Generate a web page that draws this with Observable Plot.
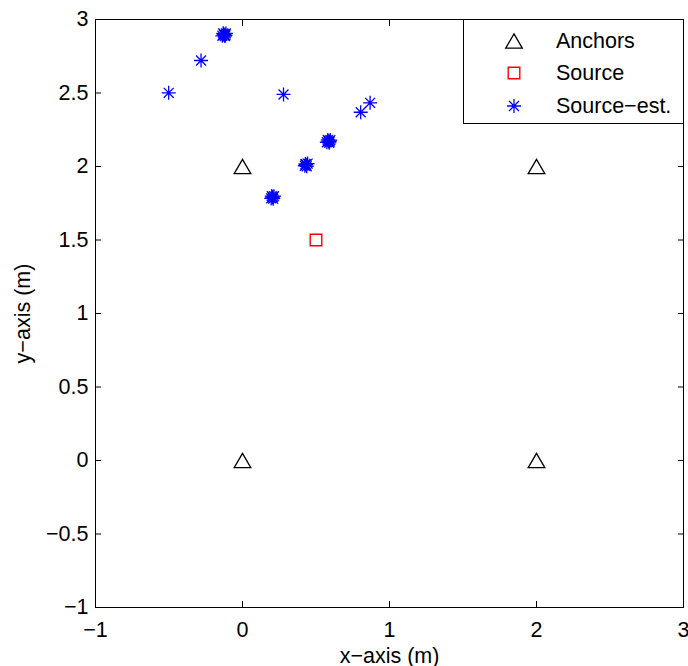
<!DOCTYPE html>
<html>
<head>
<meta charset="utf-8">
<script src="https://cdn.jsdelivr.net/npm/d3@7"></script>
<script src="https://cdn.jsdelivr.net/npm/@observablehq/plot@0.6"></script>
<style>
  html, body { margin: 0; padding: 0; background: white; overflow: hidden; }
  #wrap { position: relative; width: 688px; height: 666px; }
  #legend { position: absolute; left: 463px; top: 19px; width: 219px; height: 103px;
    border: 1px solid black; background: white; font-family: "Liberation Sans", Arial, Helvetica, sans-serif; font-size: 21.5px; }
  .row { position: absolute; left: 0; height: 30px; display: flex; align-items: center; }
  .row svg { position: absolute; left: 35px; }
  .row span { position: absolute; left: 92px; white-space: nowrap; }
</style>
</head>
<body>
<div id="wrap"><div id="legend"></div></div>
<script>
// ---- data ----
const xTicks = [-1, 0, 1, 2, 3];
const yTicks = [-1, -0.5, 0, 0.5, 1, 1.5, 2, 2.5, 3];

const anchorsX = [0, 0, 2, 2];
const anchorsY = [0, 2, 0, 2];

const sourceX = [0.5];
const sourceY = [1.5];

// source estimates (clusters are many overlapping estimates)
const estX = [
  -0.125, -0.113, -0.137, -0.120, -0.131, -0.116, -0.128,
  -0.282, -0.502, 0.279, 0.868, 0.804,
  0.585, 0.597, 0.574, 0.590, 0.580, 0.593,
  0.433, 0.443, 0.424, 0.437, 0.428,
  0.204, 0.214, 0.195, 0.209, 0.199, 0.206
];
const estY = [
  2.897, 2.905, 2.889, 2.887, 2.906, 2.893, 2.899,
  2.721, 2.501, 2.490, 2.433, 2.369,
  2.172, 2.180, 2.165, 2.161, 2.181, 2.170,
  2.012, 2.020, 2.005, 2.001, 2.017,
  1.791, 1.798, 1.783, 1.781, 1.799, 1.790
];

const legendLabels = ["Anchors", "Source", "Source\u2212est."];

// ---- marker shapes (MATLAB style) ----
const triSym = {draw(ctx, size) { const r = Math.sqrt(size / Math.PI); const h = r * 0.86;
  ctx.moveTo(0, -h); ctx.lineTo(r, h); ctx.lineTo(-r, h); ctx.closePath(); }};
const sqSym = {draw(ctx, size) { const r = Math.sqrt(size / Math.PI); ctx.rect(-r, -r, 2 * r, 2 * r); }};
const astSym = {draw(ctx, size) { const r = Math.sqrt(size / Math.PI); const d = r * Math.SQRT1_2;
  ctx.moveTo(-r, 0); ctx.lineTo(r, 0); ctx.moveTo(0, -r); ctx.lineTo(0, r);
  ctx.moveTo(-d, -d); ctx.lineTo(d, d); ctx.moveTo(-d, d); ctx.lineTo(d, -d); }};

const anchors = anchorsX.map((x, i) => ({x, y: anchorsY[i]}));
const source = sourceX.map((x, i) => ({x, y: sourceY[i]}));
const est = estX.map((x, i) => ({x, y: estY[i]}));

const fmt = d => String(d).replace("-", "\u2212");
const font = "'Liberation Sans', Arial, Helvetica, sans-serif";

const chart = Plot.plot({
  width: 688, height: 666,
  marginLeft: 95, marginRight: 5, marginTop: 19, marginBottom: 59,
  style: {fontFamily: font, fontSize: "21.5px", color: "black", background: "white", overflow: "hidden"},
  x: {domain: [-1, 3]},
  y: {domain: [-1, 3]},
  marks: [
    Plot.frame({stroke: "black", strokeWidth: 1}),
    // labels
    Plot.axisX(xTicks, {anchor: "bottom", tickSize: 0, tickPadding: 14, tickFormat: fmt,
      label: "x\u2212axis (m)", labelAnchor: "center", labelArrow: "none", labelOffset: 55}),
    Plot.axisY(yTicks, {anchor: "left", tickSize: 0, tickPadding: 7, tickFormat: fmt,
      label: "y\u2212axis (m)", labelAnchor: "center", labelArrow: "none", labelOffset: 81}),
    // inward ticks on all four sides
    Plot.axisX(xTicks, {anchor: "bottom", tickSize: -6, tickFormat: () => "", label: null}),
    Plot.axisX(xTicks, {anchor: "top", tickSize: -6, tickFormat: () => "", label: null}),
    Plot.axisY(yTicks, {anchor: "left", tickSize: -6, tickFormat: () => "", label: null}),
    Plot.axisY(yTicks, {anchor: "right", tickSize: -6, tickFormat: () => "", label: null}),
    // data
    Plot.dot(anchors, {x: "x", y: "y", symbol: triSym, r: 8.3, fill: "none", stroke: "black", strokeWidth: 1.3}),
    Plot.dot(source, {x: "x", y: "y", symbol: sqSym, r: 5.8, fill: "none", stroke: "#ff0000", strokeWidth: 1.4}),
    Plot.dot(est, {x: "x", y: "y", symbol: astSym, r: 7, fill: "none", stroke: "#0000ff", strokeWidth: 1.3})
  ]
});
document.getElementById("wrap").prepend(chart);

// ---- legend ----
const legend = document.getElementById("legend");
const legSyms = [
  {sym: triSym, r: 8.3, stroke: "black", sw: 1.3},
  {sym: sqSym, r: 5.8, stroke: "#ff0000", sw: 1.4},
  {sym: astSym, r: 7, stroke: "#0000ff", sw: 1.3}
];
const rowTops = [6, 38, 71];
legendLabels.forEach((lab, i) => {
  const row = document.createElement("div");
  row.className = "row";
  row.style.top = rowTops[i] + "px";
  const s = legSyms[i];
  const path = d3.symbol(s.sym, s.r * s.r * Math.PI)();
  row.innerHTML = `<svg width="30" height="30" viewBox="-15 -15 30 30"><path d="${path}" fill="none" stroke="${s.stroke}" stroke-width="${s.sw}"/></svg><span>${lab}</span>`;
  legend.appendChild(row);
});
</script>
</body>
</html>
